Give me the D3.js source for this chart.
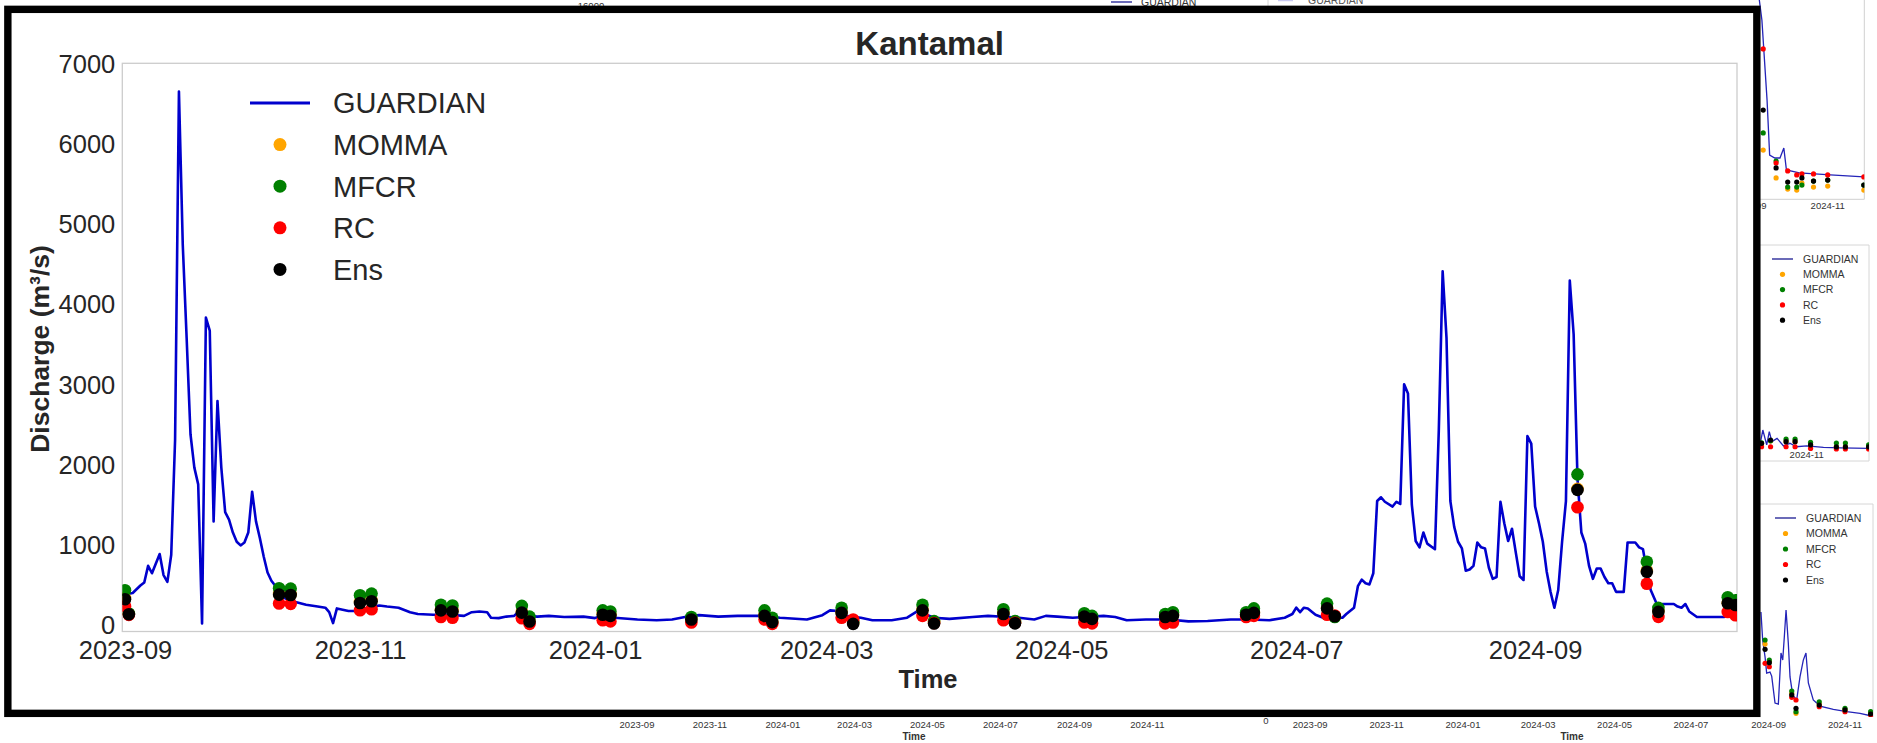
<!DOCTYPE html>
<html>
<head>
<meta charset="utf-8">
<script src="https://cdn.jsdelivr.net/npm/d3@7"></script>
<style>
  body { margin: 0; background: #fff; }
  svg { display: block; }
  text { font-family: "Liberation Sans", Arial, Helvetica, sans-serif; }
</style>
</head>
<body>
<svg id="chart" width="1877" height="743"></svg>
<script>
// ---------------------------------------------------------------------------
// Kantamal station: GUARDIAN simulated discharge and forecast points.
// Days are counted from 2023-09-01.
// ---------------------------------------------------------------------------
const guardianDay = [
  0, 1, 2, 4, 5, 6, 7, 9, 10, 11, 12, 13, 14, 15, 16, 17, 18, 19, 20, 21,
  22, 23, 24, 25, 26, 27, 28, 29, 30, 31, 32, 33, 34, 35, 36, 37, 38, 39, 40, 41,
  42, 44, 47, 50, 52, 53, 54, 55, 58, 60, 63, 66, 68, 71, 74, 76, 80, 84, 88, 90,
  92, 94, 95, 97, 99, 101, 102, 104, 107, 110, 114, 119, 122, 124, 127, 133, 138, 142, 146, 149,
  154, 159, 165, 170, 177, 181, 183, 185, 187, 191, 194, 199, 203, 206, 208, 210, 214, 220, 224, 229,
  232, 236, 239, 242, 246, 249, 254, 257, 260, 265, 271, 276, 281, 287, 292, 297, 301, 303, 304, 305,
  306, 307, 309, 311, 313, 316, 317, 319, 320, 321, 322, 323, 324, 325, 326, 327, 329, 330, 331, 332,
  333, 334, 335, 336, 337, 338, 340, 341, 342, 343, 344, 345, 346, 347, 348, 349, 350, 351, 352, 353,
  354, 355, 356, 357, 358, 359, 360, 361, 362, 363, 364, 365, 366, 367, 368, 369, 370, 371, 372, 373,
  374, 375, 376, 377, 378, 379, 380, 381, 382, 383, 384, 385, 386, 387, 389, 390, 392, 393, 394, 395,
  396, 398, 399, 402, 403, 404, 405, 406, 408, 415, 416, 418
];
const guardianFlow = [
  484, 382, 391, 484, 521, 729, 637, 877, 614, 530, 868, 2300, 6648, 4729, 3573, 2371, 1955, 1746, 10, 3827,
  3665, 1284, 2787, 1955, 1400, 1307, 1145, 1030, 984, 1021, 1145, 1654, 1284, 1076, 845, 646, 544, 480, 405, 340,
  313, 281, 244, 221, 207, 151, 15, 198, 165, 165, 207, 234, 221, 207, 151, 128, 119, 119, 105, 151,
  160, 151, 82, 77, 96, 105, 151, 105, 96, 105, 91, 96, 77, 105, 82, 59, 50, 59, 96, 114,
  96, 105, 105, 82, 59, 114, 174, 165, 105, 82, 50, 50, 82, 174, 120, 82, 68, 91, 105, 91,
  82, 59, 105, 96, 82, 91, 105, 91, 50, 59, 59, 36, 41, 59, 59, 50, 82, 128, 207, 151,
  207, 198, 119, 82, 82, 82, 128, 207, 475, 558, 512, 498, 637, 1538, 1585, 1529, 1469, 1529, 1501, 2995,
  2879, 1492, 1039, 960, 1145, 1007, 937, 2417, 4405, 3573, 1538, 1215, 1030, 946, 669, 683, 729, 1021, 960, 946,
  706, 567, 590, 1529, 1261, 1039, 1192, 891, 600, 553, 2348, 2255, 1469, 1261, 1030, 660, 405, 207, 428, 1030,
  1538, 4290, 3619, 1816, 1145, 1007, 729, 567, 697, 697, 590, 512, 512, 405, 405, 1021, 1021, 960, 937, 660,
  428, 207, 253, 253, 221, 207, 253, 160, 91, 91, 174, 105
];

// Forecast issue days and the forecast discharge of each model
const forecastDay = [0, 1, 40, 43, 61, 64, 82, 85, 103, 105, 124, 126, 147, 166, 168, 186, 189,
                     207, 210, 228, 231, 249, 251, 270, 272, 291, 293, 312, 314, 377, 395, 398, 416, 418];
const mommaFlow   = [330, 128, 380, 375, 280, 300, 185, 175, 160, 45, 130, 115, 65, 115, 35, 150, 15,
                     185, 30, 140, 25, 105, 75, 100, 115, 125, 150, 210, 100, 1690, 670, 165, 270, 250];
const mfcrFlow    = [424, 135, 450, 445, 362, 383, 244, 235, 230, 95, 174, 160, 91, 174, 82, 207, 30,
                     244, 40, 188, 40, 137, 105, 128, 151, 151, 198, 258, 90, 1871, 780, 205, 337, 300];
const rcFlow      = [225, 118, 260, 255, 175, 187, 91, 82, 75, 5, 50, 36, 22, 59, 5, 82, 60,
                     105, 15, 50, 20, 22, 12, 12, 22, 91, 105, 119, 110, 1460, 505, 92, 154, 112];
const ensFlow     = [312, 125, 370, 365, 266, 287, 174, 160, 145, 35, 119, 105, 59, 105, 27, 142, 5,
                     174, 10, 128, 12, 96, 68, 91, 105, 119, 142, 198, 100, 1677, 655, 155, 262, 240];

const yTickValues = [0, 1000, 2000, 3000, 4000, 5000, 6000, 7000];
const xTickLabels = ["2023-09", "2023-11", "2024-01", "2024-03", "2024-05", "2024-07", "2024-09"];

const seriesNames  = ["GUARDIAN", "MOMMA", "MFCR", "RC", "Ens"];
const seriesColors = ["#0000cd", "#ffa500", "#008000", "#ff0000", "#000000"];

// --- neighbouring panels of the figure sheet (partly visible around the frame) ---
// top-right panel
const panelADay   = [374, 376, 380, 382, 386, 390, 393, 395, 405, 429, 455];
const panelAFlow  = [1000, 899, 497, 221, 206, 206, 256, 146, 131, 121, 111];
const panelADots  = { day: [377, 387, 396, 403, 407, 416, 427, 455],
  momma: [246, 106, 50, 45, 80, 60, 65, 45], mfcr: [332, 191, 60, 60, 70, 90, 95, 70],
  rc: [754, 181, 141, 121, 126, 126, 121, 111], ens: [447, 156, 85, 85, 106, 90, 95, 70] };
// middle-right panel
const panelBDay   = [391, 393, 396, 398, 400, 404, 409, 414, 419, 427, 440, 453, 475];
const panelBFlow  = [28, 93, 20, 85, 36, 52, 15, 28, 11, 15, 8, 6, 3];
const panelBDots  = { day: [392, 399, 411, 418, 430, 450, 457, 475],
  momma: [25, 40, 36, 36, 20, 10, 10, 10], mfcr: [30, 40, 48, 48, 33, 29, 29, 20],
  rc: [11, 11, 11, 11, 3, 0, 0, 0], ens: [28, 44, 36, 36, 20, 10, 10, 10] };
// bottom-right panel
const panelCDay   = [363.7, 365, 366.8, 368, 370.5, 371.8, 374.3, 376.8, 378.8, 380.1, 381.3, 382.6, 384.3,
                     385.6, 387.6, 390.6, 393.1, 395.6, 397.6, 399.4, 403.1, 408.2, 418.2, 428.3, 438.3, 447.1];
const panelCFlow  = [825, 603, 468, 341, 349, 317, 103, 95, 500, 444, 627, 841, 579,
                     310, 167, 127, 310, 444, 500, 262, 127, 79, 53, 34, 21, 0];
const panelCDots  = { day: [366.8, 370, 386.9, 390.1, 407.6, 427, 446.3],
  momma: [571, 430, 180, 21, 95, 50, 20], mfcr: [603, 444, 198, 34, 113, 61, 34],
  rc: [418, 391, 148, 127, 74, 34, 8], ens: [529, 423, 167, 61, 87, 48, 16] };
const sheetTickLabels = ["2023-09", "2023-11", "2024-01", "2024-03", "2024-05", "2024-07", "2024-09", "2024-11"];
const sheetTickDays   = [0, 61, 122, 182, 243, 304, 366, 427];

// ---------------------------------------------------------------------------
const svg = d3.select("#chart");
const textColor = "#262626";
const dayMs = 864e5;
const base = Date.UTC(2023, 8, 1);
const toDate = d => new Date(base + d * dayMs);

// ---------- neighbouring panels (drawn first, the framed chart covers them) ----------
const sheet = svg.append("g").attr("class", "sheet");

function miniPanel(g, xs, ys, days, flows, dots, clip) {
  const cg = g.append("g").attr("clip-path", clip);
  cg.append("path")
    .datum(days.map((d, i) => [d, flows[i]]))
    .attr("fill", "none").attr("stroke", "#2424b8").attr("stroke-width", 1.3)
    .attr("d", d3.line().x(p => xs(p[0])).y(p => ys(p[1])));
  [["momma", 1], ["mfcr", 2], ["rc", 3], ["ens", 4]].forEach(([k, ci]) => {
    cg.selectAll(null).data(dots.day.map((d, i) => [d, dots[k][i]])).join("circle")
      .attr("cx", p => xs(p[0])).attr("cy", p => ys(p[1])).attr("r", 2.6)
      .attr("fill", seriesColors[ci]);
  });
}
function miniLegend(g, x0, y0, step) {
  seriesNames.forEach((name, i) => {
    const yy = y0 + i * step;
    if (i === 0) {
      g.append("line").attr("x1", x0).attr("x2", x0 + 21).attr("y1", yy).attr("y2", yy)
        .attr("stroke", "#3a3aa0").attr("stroke-width", 1.5);
    } else {
      g.append("circle").attr("cx", x0 + 10.5).attr("cy", yy).attr("r", 2.6).attr("fill", seriesColors[i]);
    }
    g.append("text").attr("x", x0 + 31).attr("y", yy).attr("dy", "0.36em")
      .attr("font-size", 10.5).attr("fill", "#333").text(name);
  });
}
const defs = svg.append("defs");
defs.append("clipPath").attr("id", "clipA").append("rect").attr("x", 1700).attr("y", 0).attr("width", 164.3).attr("height", 199);
defs.append("clipPath").attr("id", "clipB").append("rect").attr("x", 1700).attr("y", 245).attr("width", 169).attr("height", 214);
defs.append("clipPath").attr("id", "clipC").append("rect").attr("x", 1700).attr("y", 504).attr("width", 173).attr("height", 213);

// top-right panel
const xA = d3.scaleLinear().domain([366, 427]).range([1749, 1827.7]);
const yA = d3.scaleLinear().domain([0, 1000]).range([199, 0]);
sheet.append("path").attr("d", "M1864.3,0V199.3H1700").attr("fill", "none").attr("stroke", "#d0d0d0");
miniPanel(sheet, xA, yA, panelADay, panelAFlow, panelADots, "url(#clipA)");
sheet.selectAll(null).data([366, 427]).join("text")
  .attr("x", d => xA(d)).attr("y", 209).attr("text-anchor", "middle")
  .attr("font-size", 9.5).attr("fill", "#333").text(d => d === 366 ? "2024-09" : "2024-11");

// middle-right panel
const xB = d3.scaleLinear().domain([366, 427]).range([1728, 1806.7]);
const yB = d3.scaleLinear().domain([0, 1000]).range([449, 245]);
sheet.append("path").attr("d", "M1700,245H1869V461H1700").attr("fill", "none").attr("stroke", "#d6d6d6");
miniLegend(sheet, 1772, 259, 15.3);
miniPanel(sheet, xB, yB, panelBDay, panelBFlow, panelBDots, "url(#clipB)");
sheet.append("text").attr("x", xB(427)).attr("y", 457.5).attr("text-anchor", "middle")
  .attr("font-size", 9.5).attr("fill", "#333").text("2024-11");

// bottom-right panel
const xC = d3.scaleLinear().domain([366, 427]).range([1764, 1845]);
const yC = d3.scaleLinear().domain([0, 1000]).range([716, 590]);
sheet.append("path").attr("d", "M1700,504H1873V717").attr("fill", "none").attr("stroke", "#d6d6d6");
miniLegend(sheet, 1775, 518, 15.5);
miniPanel(sheet, xC, yC, panelCDay, panelCFlow, panelCDots, "url(#clipC)");

// bottom row of tick labels from the panels below
const xD = d3.scaleLinear().domain([0, 427]).range([637, 1147.4]);
const xE = d3.scaleLinear().domain([122, 427]).range([1463, 1845]);
[[xD, 914], [xE, 1572]].forEach(([xs, tx]) => {
  sheet.selectAll(null).data(sheetTickDays).join("text")
    .attr("x", d => xs(d)).attr("y", 728).attr("text-anchor", "middle")
    .attr("font-size", 9.5).attr("fill", "#333").text((d, i) => sheetTickLabels[i]);
  sheet.append("text").attr("x", tx).attr("y", 740).attr("text-anchor", "middle")
    .attr("font-size", 10).attr("font-weight", "bold").attr("fill", "#333").text("Time");
});
sheet.append("text").attr("x", 1266).attr("y", 724).attr("text-anchor", "middle")
  .attr("font-size", 9.5).attr("fill", "#333").text("0");

// fragments along the top edge
sheet.append("text").attr("x", 591).attr("y", 9).attr("text-anchor", "middle")
  .attr("font-size", 9.5).attr("fill", "#333").text("16000");
sheet.append("line").attr("x1", 1111).attr("x2", 1132).attr("y1", 2).attr("y2", 2)
  .attr("stroke", "#3a3aa0").attr("stroke-width", 1.5);
sheet.append("text").attr("x", 1141).attr("y", 6).attr("font-size", 10.5).attr("fill", "#333").text("GUARDIAN");
sheet.append("line").attr("x1", 1268).attr("x2", 1268).attr("y1", 0).attr("y2", 6).attr("stroke", "#d6d6d6");
sheet.append("line").attr("x1", 1278).attr("x2", 1293).attr("y1", 0.5).attr("y2", 0.5)
  .attr("stroke", "#c8c8f0").attr("stroke-width", 1.5);
sheet.append("text").attr("x", 1308).attr("y", 4).attr("font-size", 10.5).attr("fill", "#555").text("GUARDIAN");

// ---------- framed chart ----------
svg.append("rect")
  .attr("x", 7.85).attr("y", 9.35).attr("width", 1749).attr("height", 704)
  .attr("fill", "#fff").attr("stroke", "#000").attr("stroke-width", 7.4);

const plot = { left: 122.3, right: 1737, top: 63.3, bottom: 631.5 };

const x = d3.scaleUtc()
  .domain([toDate(-0.7), toDate(418.4)])
  .range([plot.left, plot.right]);
const y = d3.scaleLinear()
  .domain([-90, 7000])
  .range([plot.bottom, plot.top]);

defs.append("clipPath").attr("id", "plotClip").append("rect")
  .attr("x", plot.left).attr("y", plot.top)
  .attr("width", plot.right - plot.left).attr("height", plot.bottom - plot.top);

// axes without tick marks, labels only
const parseMonth = d3.utcParse("%Y-%m");
const xAxis = d3.axisBottom(x)
  .tickValues(xTickLabels.map(parseMonth))
  .tickFormat(d3.utcFormat("%Y-%m"))
  .tickSize(0).tickPadding(9);
const yAxis = d3.axisLeft(y)
  .tickValues(yTickValues)
  .tickFormat(d3.format("d"))
  .tickSize(0).tickPadding(7);

const gx = svg.append("g").attr("transform", `translate(0,${plot.bottom})`).call(xAxis);
const gy = svg.append("g").attr("transform", `translate(${plot.left},0)`).call(yAxis);
[gx, gy].forEach(g => {
  g.select(".domain").remove();
  g.selectAll("text").attr("font-size", 25.5).attr("fill", textColor)
    .attr("font-family", "'Liberation Sans', Arial, sans-serif");
});
gx.selectAll("text").attr("dy", "0.71em");
gy.selectAll("text").attr("dy", "0.36em");

// plot border
svg.append("rect")
  .attr("x", plot.left).attr("y", plot.top)
  .attr("width", plot.right - plot.left).attr("height", plot.bottom - plot.top)
  .attr("fill", "none").attr("stroke", "#cccccc").attr("stroke-width", 1.3);

const body = svg.append("g").attr("clip-path", "url(#plotClip)");

// GUARDIAN line
body.append("path")
  .datum(guardianDay.map((d, i) => ({ date: toDate(d), flow: guardianFlow[i] })))
  .attr("fill", "none")
  .attr("stroke", seriesColors[0])
  .attr("stroke-width", 2.6)
  .attr("stroke-linejoin", "round")
  .attr("d", d3.line().x(d => x(d.date)).y(d => y(d.flow)));

// forecast points, drawn model by model
[mommaFlow, mfcrFlow, rcFlow, ensFlow].forEach((vals, k) => {
  body.append("g").selectAll("circle")
    .data(forecastDay.map((d, i) => ({ date: toDate(d), flow: vals[i] })))
    .join("circle")
    .attr("cx", d => x(d.date))
    .attr("cy", d => y(d.flow))
    .attr("r", 6.3)
    .attr("fill", seriesColors[k + 1]);
});

// title and axis titles
svg.append("text")
  .attr("x", (plot.left + plot.right) / 2).attr("y", 55)
  .attr("text-anchor", "middle").attr("font-size", 33).attr("font-weight", "bold")
  .attr("fill", textColor).text("Kantamal");
svg.append("text")
  .attr("x", 928).attr("y", 688)
  .attr("text-anchor", "middle").attr("font-size", 25.5).attr("font-weight", "bold")
  .attr("fill", textColor).text("Time");
svg.append("text")
  .attr("transform", `translate(49,349) rotate(-90)`)
  .attr("text-anchor", "middle").attr("font-size", 26.5).attr("font-weight", "bold")
  .attr("fill", textColor).text("Discharge (m³/s)");

// legend
const legend = svg.append("g");
seriesNames.forEach((name, i) => {
  const yy = 103 + i * 41.6;
  if (i === 0) {
    legend.append("line").attr("x1", 250).attr("x2", 310).attr("y1", yy).attr("y2", yy)
      .attr("stroke", seriesColors[0]).attr("stroke-width", 2.8);
  } else {
    legend.append("circle").attr("cx", 280).attr("cy", yy).attr("r", 6.5).attr("fill", seriesColors[i]);
  }
  legend.append("text").attr("x", 333).attr("y", yy).attr("dy", "0.36em")
    .attr("font-size", 29).attr("fill", textColor).text(name);
});
</script>
</body>
</html>
